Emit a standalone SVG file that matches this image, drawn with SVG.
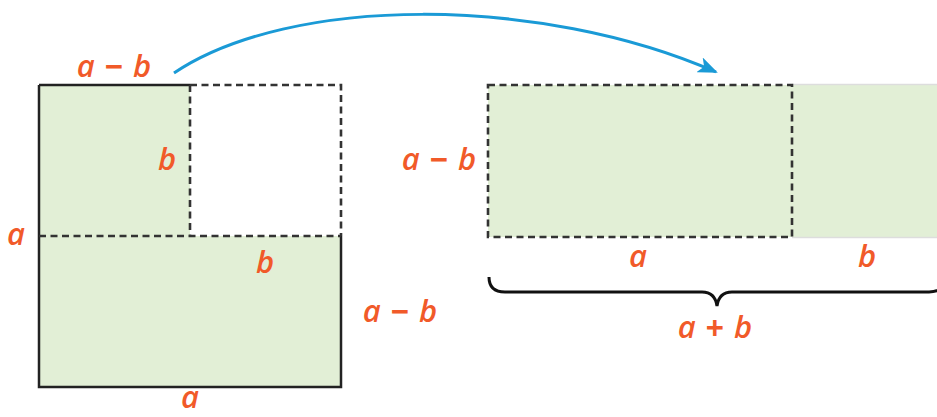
<svg xmlns="http://www.w3.org/2000/svg" width="937" height="417" viewBox="0 0 937 417">
<defs>
<style>
.lbl{font-family:"Open Sans","Liberation Sans",sans-serif;font-style:italic;font-weight:600;font-size:31px;fill:#f15a29;text-anchor:middle;word-spacing:2px}
.op{font-family:"Liberation Sans",sans-serif;font-style:normal;font-weight:700}
.fill{fill:#e2efd6;stroke:none}
.solid{stroke:#222;stroke-width:2.5;fill:none}
.dash{stroke:#333;stroke-width:2.6;fill:none;stroke-dasharray:7 4.5}
</style>
<marker id="ah" viewBox="0 0 20 16" refX="18" refY="8" markerWidth="20" markerHeight="16" markerUnits="userSpaceOnUse" orient="auto">
<path d="M0,0 L20,8 L0,16 L5,8 Z" fill="#1a9ad6"/>
</marker>
</defs>
<rect width="937" height="417" fill="#fff"/>
<g id="left-square">
<rect class="fill" x="39" y="85" width="151" height="151"/>
<rect class="fill" x="39" y="236" width="302" height="151"/>
<path class="solid" d="M39,85 L190,85 M39,85 L39,387 L341,387 L341,236"/>
<path class="dash" d="M190,85 L341,85 L341,236 M190,85 L190,236 M39,236 L341,236"/>
</g>
<g id="right-rect">
<rect class="fill" x="488" y="85" width="449" height="152"/>
<path d="M792,84.5 L937,84.5 M792,237.5 L937,237.5" stroke="#ddd" stroke-width="1.5" fill="none"/>
<rect class="dash" x="488" y="85" width="304" height="152"/>
</g>
<g id="brace">
<path d="M489,277 Q489,292 505,292 L702,292 Q715,292 717,306 Q719,292 732,292 L929,292 Q945,292 945,277" stroke="#111" stroke-width="3" fill="none"/>
</g>
<g id="connectors">
<path d="M174,73 C290,-5 540,-5 716,72" stroke="#1a9ad6" stroke-width="3" fill="none" marker-end="url(#ah)"/>
</g>
<g id="labels">
<text class="lbl" x="114" y="77">a <tspan class="op">−</tspan> b</text>
<text class="lbl" x="167" y="170">b</text>
<text class="lbl" x="16" y="245">a</text>
<text class="lbl" x="265" y="273">b</text>
<text class="lbl" x="400" y="322">a <tspan class="op">−</tspan> b</text>
<text class="lbl" x="190" y="408">a</text>
<text class="lbl" x="439" y="170">a <tspan class="op">−</tspan> b</text>
<text class="lbl" x="638" y="267">a</text>
<text class="lbl" x="867" y="267">b</text>
<text class="lbl" x="715" y="338">a <tspan class="op">+</tspan> b</text>
</g>
</svg>
